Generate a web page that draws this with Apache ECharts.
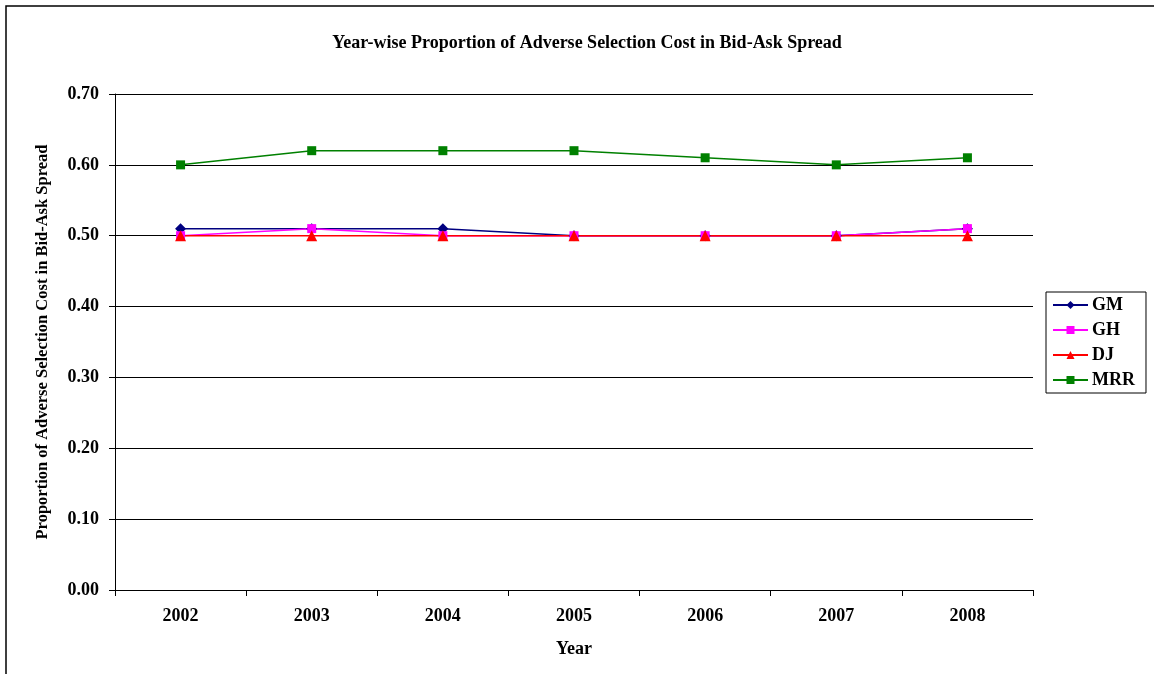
<!DOCTYPE html>
<html><head><meta charset="utf-8">
<script src="https://cdn.jsdelivr.net/npm/echarts@6/dist/echarts.min.js"></script>
<style>html,body{margin:0;padding:0;background:#fff}#c{width:1154px;height:674px}</style>
</head><body><div id="c"></div>
<script>
const years = ['2002','2003','2004','2005','2006','2007','2008'];
const GM  = [0.51, 0.51, 0.51, 0.50, 0.50, 0.50, 0.51];
const GH  = [0.50, 0.51, 0.50, 0.50, 0.50, 0.50, 0.51];
const DJ  = [0.50, 0.50, 0.50, 0.50, 0.50, 0.50, 0.50];
const MRR = [0.60, 0.62, 0.62, 0.62, 0.61, 0.60, 0.61];

const font = '"Liberation Serif", "Times New Roman", serif';
const chart = echarts.init(document.getElementById('c'));
function s(name, data, color, symbol, size) {
  return {name, type:'line', data, symbol, symbolSize:size, showSymbol:true,
    lineStyle:{color, width:1.5}, itemStyle:{color}, animation:false};
}
const fs = 18;
chart.setOption({
  animation:false,
  textStyle:{fontFamily:font},
  title:{text:'Year-wise Proportion of Adverse Selection Cost in Bid-Ask Spread', left:582, top:29, textAlign:'center',
    textStyle:{fontFamily:font, fontSize:fs, fontWeight:'bold', color:'#000'}},
  graphic:[{type:'rect', shape:{x:6, y:6, width:1300, height:800}, style:{fill:null, stroke:'#000', lineWidth:1.5}, silent:true}],
  grid:{left:115, top:94, width:918, height:496, containLabel:false},
  legend:{orient:'vertical', left:1046, top:292,
    padding:[4,11,4,6], itemGap:7, itemWidth:35, itemHeight:10,
    borderColor:'#000', borderWidth:1, backgroundColor:'#fff',
    textStyle:{fontFamily:font, fontSize:fs, fontWeight:'bold', color:'#000', padding:[0,0,0,-1]},
    data:['GM','GH','DJ','MRR']},
  xAxis:{type:'category', data:years, boundaryGap:true,
    name:'Year', nameLocation:'middle', nameGap:50,
    nameTextStyle:{fontFamily:font, fontSize:fs, fontWeight:'bold', color:'#000'},
    axisLine:{lineStyle:{color:'#000', width:1}},
    axisTick:{show:true, inside:false, length:6, alignWithLabel:false, lineStyle:{color:'#000'}},
    axisLabel:{fontFamily:font, fontSize:fs, fontWeight:'bold', color:'#000', margin:17}},
  yAxis:{type:'value', min:0, max:0.7, interval:0.1,
    name:'Proportion of Adverse Selection Cost in Bid-Ask Spread', nameLocation:'middle', nameGap:64, nameRotate:90,
    nameTextStyle:{fontFamily:font, fontSize:16.5, fontWeight:'bold', color:'#000'},
    axisLine:{show:true, lineStyle:{color:'#000', width:1}},
    axisTick:{show:true, length:6, lineStyle:{color:'#000'}},
    splitLine:{lineStyle:{color:'#000', width:1}},
    axisLabel:{fontFamily:font, fontSize:fs, fontWeight:'bold', color:'#000', margin:16, formatter:v=>v.toFixed(2)}},
  series:[
    s('GM', GM, '#000080', 'diamond', 11),
    s('GH', GH, '#FF00FF', 'rect', 9),
    s('DJ', DJ, '#FF0000', 'triangle', 11),
    s('MRR', MRR, '#008000', 'rect', 9)
  ]
});
</script></body></html>
